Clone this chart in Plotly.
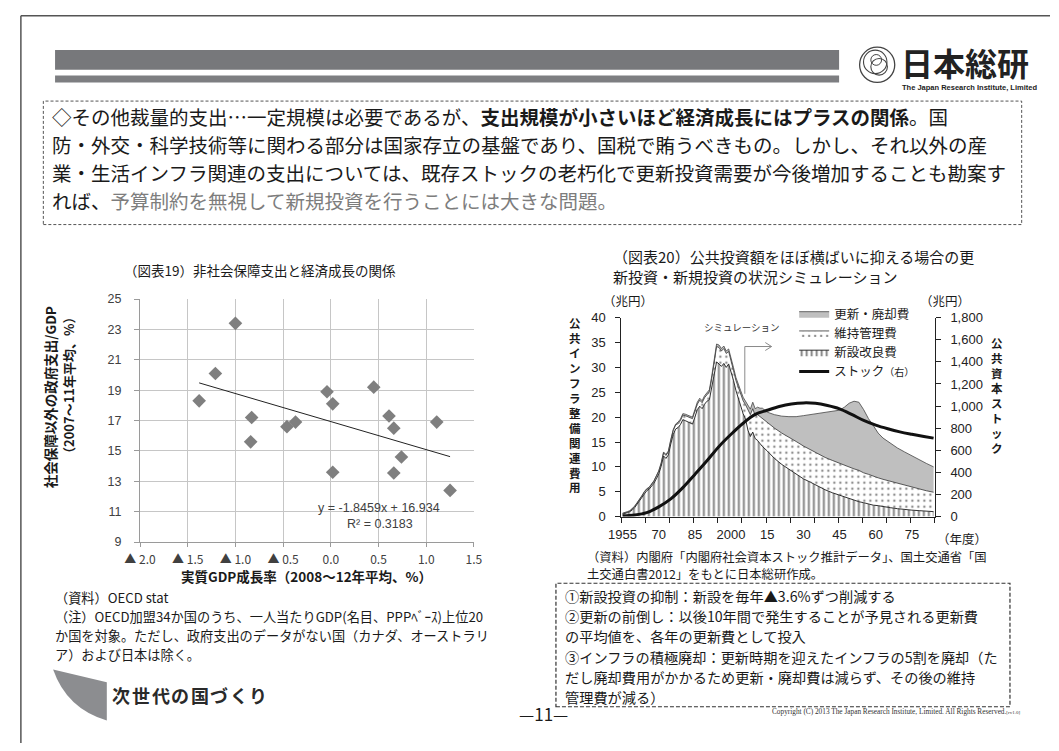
import plotly.graph_objects as go

W, H = 1059, 751
JP = "Noto Sans CJK JP, sans-serif"
LAT = "Liberation Sans, Arial, sans-serif"


def px(x):
    return x / W


def py(y):
    return 1 - y / H


# ---------------- Chart 19 data ----------------
gdp_growth = [-1.38, -1.21, -1.00, -0.83, -0.84, -0.46, -0.37, -0.04, 0.02,
              0.02, 0.45, 0.61, 0.66, 0.74, 0.66, 1.11, 1.25]
gov_spending = [18.3, 20.1, 23.4, 17.2, 15.6, 16.6, 16.9, 18.9, 18.1,
                13.6, 19.2, 17.3, 16.5, 14.6, 13.55, 16.9, 12.4]
trend_slope = -1.8459
trend_intercept = 16.934
r_squared = 0.3183
x19_tickvals = [-2.0, -1.5, -1.0, -0.5, 0.0, 0.5, 1.0, 1.5]
x19_ticktext = ["▲ 2.0", "▲ 1.5", "▲ 1.0", "▲ 0.5", "0.0", "0.5", "1.0", "1.5"]
y19_tickvals = [9, 11, 13, 15, 17, 19, 21, 23, 25]

# ---------------- Chart 20 data ----------------
hist_years = list(range(1955, 2011))
new_hist = [0.5, 0.6, 0.8, 1.0, 1.3, 1.8, 2.5, 3.1, 3.8, 4.6,
            5.2, 5.5, 6.0, 6.7, 7.6, 8.6, 10.1, 12.2, 11.7, 12.4,
            14.6, 16.5, 17.6, 17.9, 18.5, 19.5, 19.3, 19.1, 18.8, 18.6,
            20.0, 21.5, 22.2, 21.7, 22.6, 23.2, 23.5, 25.9, 29.0, 31.1,
            30.7, 30.2, 30.8, 30.0, 30.7, 29.2, 27.4, 25.4, 23.7, 22.3,
            20.7, 19.6, 17.4, 16.1, 17.0, 15.7]
maint_hist = [0.1, 0.1, 0.1, 0.1, 0.2, 0.2, 0.2, 0.2, 0.3, 0.3,
              0.3, 0.3, 0.4, 0.4, 0.5, 0.5, 0.5, 0.6, 0.6, 0.6,
              0.7, 0.8, 0.8, 0.8, 0.8, 0.9, 1.0, 1.0, 1.1, 1.1,
              1.2, 1.1, 1.2, 1.2, 1.3, 1.4, 1.6, 1.9, 2.5, 3.1,
              3.3, 3.1, 3.0, 2.8, 2.5, 2.3, 2.0, 2.0, 2.2, 2.4,
              2.6, 2.9, 4.0, 4.4, 4.7, 4.6]
renew_hist = [0.1, 0.1, 0.1, 0.1, 0.1, 0.1, 0.1, 0.1, 0.1, 0.1,
              0.1, 0.1, 0.1, 0.1, 0.1, 0.1, 0.2, 0.2, 0.2, 0.2,
              0.2, 0.2, 0.2, 0.3, 0.3, 0.3, 0.3, 0.3, 0.3, 0.3,
              0.3, 0.4, 0.4, 0.4, 0.4, 0.4, 0.4, 0.5, 0.5, 0.5,
              0.5, 0.5, 0.5, 0.5, 0.5, 0.5, 0.6, 0.6, 0.6, 0.6,
              0.7, 0.7, 1.0, 1.1, 1.3, 1.4]
sim_years = [2011, 2012, 2013, 2015, 2018, 2021, 2024, 2027, 2030, 2033,
             2036, 2039, 2042, 2045, 2047, 2049, 2051, 2053, 2055, 2057,
             2059, 2061, 2063, 2066, 2069, 2072, 2075, 2078, 2081, 2084]
new_sim = [15.3, 14.7, 14.1, 13.2, 11.7, 10.5, 9.5, 8.5, 7.6, 6.9,
           6.1, 5.4, 4.8, 4.3, 4.0, 3.6, 3.3, 3.0, 2.8, 2.5,
           2.3, 2.2, 2.0, 1.8, 1.6, 1.4, 1.3, 1.2, 1.1, 1.0]
maint_sim = [5.2, 5.4, 5.6, 5.7, 6.1, 6.3, 6.5, 6.6, 6.6, 6.5,
             6.5, 6.5, 6.5, 6.4, 6.4, 6.4, 6.3, 6.3, 6.0, 6.0,
             5.8, 5.6, 5.5, 5.3, 5.1, 4.9, 4.6, 4.3, 4.1, 3.9]
renew_sim = [1.5, 1.7, 2.1, 2.1, 2.7, 3.4, 4.1, 5.0, 6.1, 7.1,
             8.2, 9.1, 9.8, 10.7, 11.6, 12.8, 13.6, 13.7, 12.7, 11.2,
             10.2, 9.0, 8.3, 7.7, 7.1, 6.7, 6.3, 5.9, 5.5, 5.1]
stock_years = [1955, 1960, 1965, 1970, 1975, 1980, 1985, 1990, 1995, 2000,
               2005, 2010, 2015, 2020, 2025, 2030, 2035, 2040, 2045, 2050,
               2055, 2060, 2065, 2070, 2075, 2080, 2084]
stock_values = [5, 14, 36, 88, 160, 262, 382, 505, 635, 745,
                845, 925, 962, 996, 1019, 1029, 1025, 1005, 975, 925,
                870, 828, 795, 767, 745, 725, 710]
x20_tickvals = [1955, 1970, 1985, 2000, 2015, 2030, 2045, 2060, 2075]
x20_ticktext = ["1955", "70", "85", "2000", "15", "30", "45", "60", "75"]

years20 = hist_years + sim_years
new_all = new_hist + new_sim
maint_all = maint_hist + maint_sim
renew_all = renew_hist + renew_sim

fig = go.Figure()

# ---- chart 19 traces ----
fig.add_trace(go.Scatter(
    x=gdp_growth, y=gov_spending, mode="markers",
    marker=dict(symbol="diamond", size=10.5, color="#7f7f7f"),
    xaxis="x", yaxis="y", showlegend=False, hoverinfo="skip"))
trend_x = [min(gdp_growth), max(gdp_growth)]
trend_y = [trend_slope * v + trend_intercept for v in trend_x]
fig.add_trace(go.Scatter(
    x=trend_x, y=trend_y, mode="lines", line=dict(color="#222", width=1),
    xaxis="x", yaxis="y", showlegend=False, hoverinfo="skip"))

# ---- chart 20 traces ----
fig.add_trace(go.Scatter(
    x=years20, y=new_all, stackgroup="cost", mode="lines",
    line=dict(color="#1a1a1a", width=0.9),
    fillpattern=dict(shape="|", size=5, solidity=0.38, fgcolor="#000000", bgcolor="white"),
    name="新設改良費", legendrank=3, xaxis="x2", yaxis="y2", hoverinfo="skip"))
fig.add_trace(go.Scatter(
    x=years20, y=maint_all, stackgroup="cost", mode="lines",
    line=dict(color="#333", width=0.8),
    fillpattern=dict(shape=".", size=6, solidity=0.14, fgcolor="#222", bgcolor="white"),
    name="維持管理費", legendrank=2, xaxis="x2", yaxis="y2", hoverinfo="skip"))
fig.add_trace(go.Scatter(
    x=years20, y=renew_all, stackgroup="cost", mode="lines",
    line=dict(color="#444", width=0.8), fillcolor="#bfbfbf",
    name="更新・廃却費", legendrank=1, xaxis="x2", yaxis="y2", hoverinfo="skip"))
fig.add_trace(go.Scatter(
    x=stock_years, y=stock_values, mode="lines",
    line=dict(color="#111", width=3, shape="spline"),
    name="ストック<span style='font-size:10px'>（右）</span>", legendrank=4,
    xaxis="x2", yaxis="y3", hoverinfo="skip"))

tick19 = dict(family=LAT, size=12.5, color="#404040")
tick19x = dict(family=JP, size=12, color="#404040")
tick20 = dict(family=LAT, size=13, color="#222")

fig.update_layout(
    width=W, height=H, margin=dict(l=0, r=0, t=0, b=0),
    paper_bgcolor="white", plot_bgcolor="white",
    font=dict(family=JP, color="#1a1a1a"),
    xaxis=dict(domain=[px(127), px(469)], range=[-2, 1.5], anchor="y",
               tickvals=x19_tickvals, ticktext=x19_ticktext,
               showgrid=True, gridcolor="#c6c6c6", zeroline=False,
               showline=True, linecolor="#9a9a9a", ticks="outside", ticklen=4,
               tickcolor="#9a9a9a", tickfont=tick19x, ticklabelstandoff=3),
    yaxis=dict(domain=[py(546), py(298)], range=[9, 25], anchor="x",
               tickvals=y19_tickvals, showgrid=True, gridcolor="#c6c6c6",
               zeroline=False, showline=True, linecolor="#9a9a9a",
               ticks="outside", ticklen=5, tickcolor="#9a9a9a", tickfont=tick19,
               ticklabelstandoff=10),
    xaxis2=dict(domain=[px(620), px(941)], range=[1954.5, 2084.5], anchor="y2",
                tickvals=x20_tickvals, ticktext=x20_ticktext, ticks="",
                showgrid=False, zeroline=False, showline=True, linecolor="#222",
                minor=dict(ticks="outside", tick0=1954.5, dtick=10, ticklen=5,
                           tickcolor="#222", showgrid=False),
                tickfont=tick20, ticklabelstandoff=6),
    yaxis2=dict(domain=[py(520), py(317)], range=[0, 40], dtick=5, anchor="x2",
                ticks="outside", ticklen=5, tickcolor="#222", showline=True,
                linecolor="#222", showgrid=False, zeroline=False, tickfont=tick20,
                ticklabelstandoff=7),
    yaxis3=dict(overlaying="y2", side="right", anchor="x2", range=[0, 1800],
                dtick=200, tickformat=",", ticks="outside", ticklen=5,
                tickcolor="#222", showline=True, linecolor="#222",
                showgrid=False, zeroline=False, tickfont=tick20,
                ticklabelstandoff=7),
    legend=dict(x=px(797), y=py(298), xanchor="left", yanchor="top",
                font=dict(family=JP, size=12.5, color="#1a1a1a"),
                bgcolor="rgba(0,0,0,0)", itemwidth=30, tracegroupgap=0,
                traceorder="normal"),
)

ann = []


def text(x, y, s, size, anchor="left", color="#1a1a1a", family=JP, yanchor="middle",
         angle=0, align="left"):
    ann.append(dict(x=px(x), y=py(y), xref="paper", yref="paper", text=s,
                    showarrow=False, xanchor=anchor, yanchor=yanchor, textangle=angle,
                    align=align, font=dict(family=family, size=size, color=color)))


# header text, one annotation per line
header_lines = [
    "◇その他裁量的支出…一定規模は必要であるが、<b>支出規模が小さいほど経済成長にはプラスの関係</b>。国",
    "防・外交・科学技術等に関わる部分は国家存立の基盤であり、国税で賄うべきもの。しかし、それ以外の産",
    "業・生活インフラ関連の支出については、既存ストックの老朽化で更新投資需要が今後増加することも勘案す",
    "れば、<span style='color:#7d7d7d'>予算制約を無視して新規投資を行うことには大きな問題。</span>",
]
for i, s in enumerate(header_lines):
    text(35, 112 + i * 28.4, s, 19.5)

# logo
text(904, 56, "<b>日本総研</b>", 32, color="#222")
text(977, 82, "<b>The Japan Research Institute, Limited</b>", 7.5, anchor="center",
     family="Liberation Sans Narrow, Liberation Sans, sans-serif", color="#222")

# chart 19 texts
text(250, 268, "（図表19）非社会保障支出と経済成長の関係", 13.5, anchor="center")
text(35, 398, "<b>社会保障以外の政府支出/GDP</b>", 13.5, anchor="center", angle=-90)
text(54, 386, "<b>（2007～11年平均、%）</b>", 13, anchor="center", angle=-90)
text(298, 581, "<b>実質GDP成長率（2008～12年平均、%）</b>", 13.5, anchor="center")
text(372, 511, f"y = {trend_slope}x + {trend_intercept}", 12.5, anchor="center",
     family=LAT, color="#404040")
text(373, 528, f"R² = {r_squared}", 12.5, anchor="center", family=LAT, color="#404040")

# chart 20 texts
text(609, 255, "（図表20）公共投資額をほぼ横ばいに抑える場合の更", 15)
text(609, 275, "新投資・新規投資の状況シミュレーション", 15)
text(627, 299, "（兆円）", 12.5, anchor="center")
text(951, 299, "（兆円）", 12.5, anchor="center")
text(969, 542, "（年度）", 12.5, anchor="center")
text(573, 406, "<b>" + "<br>".join("公共インフラ整備関連費用") + "</b>", 11.5,
     anchor="center", align="center")
text(1005, 396, "<b>" + "<br>".join("公共資本ストック") + "</b>", 11.5,
     anchor="center", align="center")
text(583, 561, "（資料）内閣府「内閣府社会資本ストック推計データ」、国土交通省「国", 12.3)
text(583, 579, "土交通白書2012」をもとに日本総研作成。", 12.3)
ann.append(dict(x=2004.5, y=38.2, xref="x2", yref="y2", text="シミュレーション",
                showarrow=False, xanchor="center", yanchor="middle",
                font=dict(family=JP, size=9.5, color="#333")))

# bottom left notes
notes = [
    "（資料）OECD stat",
    "（注）OECD加盟34か国のうち、一人当たりGDP(名目、PPPﾍﾞｰｽ)上位20",
    "か国を対象。ただし、政府支出のデータがない国（カナダ、オーストラリ",
    "ア）および日本は除く。",
]
for i, s in enumerate(notes):
    text(38, 603 + i * 19.2, s, 13.2)
for i, ch in enumerate("次世代の国づくり"):
    text(108 + i * 20, 702, f"<b>{ch}</b>", 18, anchor="center", color="#2a2a2a")

# bottom right box text, one annotation per line
box_lines = [
    "①新設投資の抑制：新設を毎年▲3.6%ずつ削減する",
    "②更新の前倒し：以後10年間で発生することが予見される更新費",
    "の平均値を、各年の更新費として投入",
    "③インフラの積極廃却：更新時期を迎えたインフラの5割を廃却（た",
    "だし廃却費用がかかるため更新・廃却費は減らず、その後の維持",
    "管理費が減る）",
]
for i, s in enumerate(box_lines):
    text(560, 601 + i * 20.6, s, 14.2)

text(540, 721, "—11—", 17, anchor="center")
text(1030, 719, "Copyright (C) 2013 The Japan Research Institute, Limited. All Rights Reserved.<span style='font-size:5px'>[rv1.0]</span>",
     7.3, anchor="right", family="Liberation Serif, serif", color="#333")

shapes = []


def rect(x0, y0, x1, y1, fill=None, line=None, dash=None, width=1):
    shapes.append(dict(type="rect", xref="paper", yref="paper",
                       x0=px(x0), x1=px(x1), y0=py(y1), y1=py(y0),
                       fillcolor=fill if fill else "rgba(0,0,0,0)",
                       line=dict(color=line if line else "rgba(0,0,0,0)", width=width if line else 0,
                                 dash=dash if dash else "solid"),
                       layer="below"))


def pline(x0, y0, x1, y1, color="#555", width=1.5):
    shapes.append(dict(type="line", xref="paper", yref="paper",
                       x0=px(x0), x1=px(x1), y0=py(y0), y1=py(y1),
                       line=dict(color=color, width=width)))


def circ(cx, cy, r, color="#444", width=1.3):
    shapes.append(dict(type="circle", xref="paper", yref="paper",
                       x0=px(cx - r), x1=px(cx + r), y0=py(cy + r), y1=py(cy - r),
                       line=dict(color=color, width=width)))


# slide frame
pline(5, 9, 1059, 9)
pline(5, 9, 5, 751)
# header bars
rect(40, 44, 843, 64, fill="#77787b")
rect(40, 70, 843, 77, fill="#7d7e81")
# logo mark
circ(882, 59, 18)
circ(880, 56, 12, width=1.1)
circ(884, 61, 8.5, width=1.1)
circ(881, 54, 5.5, width=1.0)
# dashed boxes
rect(28, 96, 1030, 222, line="#555", dash="3px,2px", width=1)
rect(553, 588, 1018, 714, line="#333", dash="4px,2px", width=1.2)
# swoosh
sw = (f"M {px(38)},{py(676)} L {px(93)},{py(689)} L {px(93)},{py(728)} "
      f"Q {px(52)},{py(716)} {px(38)},{py(676)} Z")
shapes.append(dict(type="path", xref="paper", yref="paper", path=sw,
                   fillcolor="#8c8d90", line=dict(width=0)))
# simulation arrow
shapes.append(dict(type="path", xref="x2", yref="y2",
                   path="M 2005.7,24.7 L 2005.7,34.2 L 2016.8,34.2",
                   line=dict(color="#8a8a8a", width=1)))
shapes.append(dict(type="path", xref="x2", yref="y2",
                   path="M 2014.2,35.0 L 2016.8,34.2 L 2014.2,33.4",
                   line=dict(color="#8a8a8a", width=1)))

fig.update_layout(annotations=ann, shapes=shapes)
fig.write_html("out.html")
